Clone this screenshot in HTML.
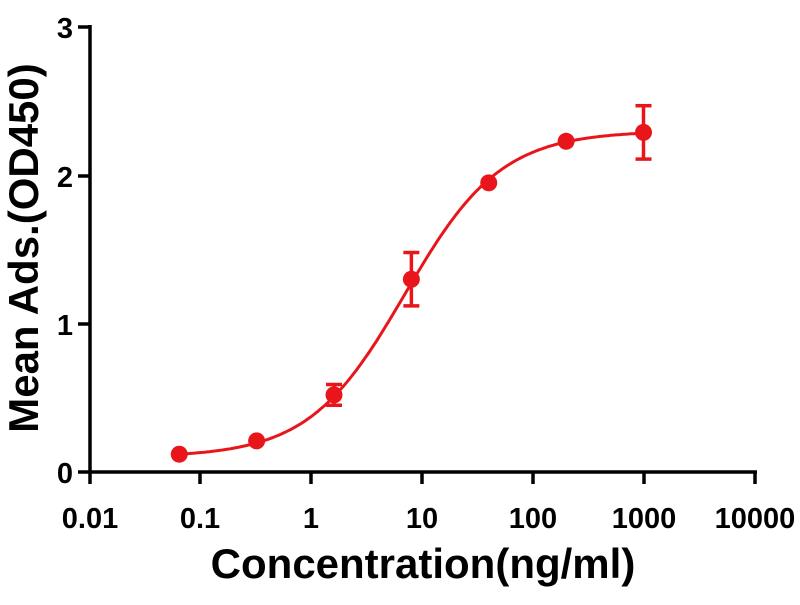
<!DOCTYPE html>
<html><head><meta charset="utf-8"><style>
body{margin:0;background:#fff;}
svg text{font-family:"Liberation Sans",Arial,sans-serif;font-weight:bold;fill:#000;}
</style></head><body>
<svg id="s" width="800" height="600" xmlns="http://www.w3.org/2000/svg">
<g stroke="#000" stroke-width="3.5" fill="none">
<line x1="90" y1="25" x2="90" y2="473"/>
<line x1="88" y1="472" x2="757" y2="472"/>
<line x1="78" y1="27" x2="90" y2="27"/>
<line x1="78" y1="176" x2="90" y2="176"/>
<line x1="78" y1="324" x2="90" y2="324"/>
<line x1="78" y1="472" x2="90" y2="472"/>
<line x1="90" y1="472" x2="90" y2="484"/>
<line x1="200" y1="472" x2="200" y2="484"/>
<line x1="311" y1="472" x2="311" y2="484"/>
<line x1="422" y1="472" x2="422" y2="484"/>
<line x1="533" y1="472" x2="533" y2="484"/>
<line x1="644" y1="472" x2="644" y2="484"/>
<line x1="755" y1="472" x2="755" y2="484"/>
</g>
<g font-size="29" text-anchor="end">
<text x="73" y="38">3</text><text x="73" y="187">2</text><text x="73" y="335">1</text><text x="73" y="483">0</text>
</g>
<g font-size="29" text-anchor="middle">
<text x="90" y="528">0.01</text><text x="200" y="528">0.1</text><text x="311" y="528">1</text><text x="422" y="528">10</text><text x="533" y="528">100</text><text x="644" y="528">1000</text><text x="755" y="528">10000</text>
</g>
<text x="423" y="578" font-size="42" text-anchor="middle">Concentration(ng/ml)</text>
<text transform="translate(38,248) rotate(-90)" font-size="42" text-anchor="middle">Mean Ads.(OD450)</text>
<g id="d"></g>
</svg>
<script>
var X=function(c){return 90+(Math.log10(c)+2)*110.7;},Y=function(v){return 472-v*148.3;};
var f=function(c){return 0.1+2.2/(1+Math.pow(7/c,1));};
var p="";for(var i=0;i<=200;i++){var lc=Math.log10(0.064)+i/200*(3-Math.log10(0.064));var c=Math.pow(10,lc);p+=(i?"L":"M")+X(c).toFixed(1)+","+Y(f(c)).toFixed(1);}
var h='<path d="'+p+'" stroke="#e8161b" stroke-width="3" fill="none"/>';
var pts=[[0.064,0.12,0],[0.32,0.21,0],[1.6,0.52,0.07],[8,1.30,0.18],[40,1.95,0],[200,2.23,0],[1000,2.29,0.18]];
pts.forEach(function(q){var x=X(q[0]),y=Y(q[1]);if(q[2]){var a=Y(q[1]+q[2]),b=Y(q[1]-q[2]);h+='<g stroke="#e8161b" stroke-width="3.5"><line x1="'+x+'" y1="'+a+'" x2="'+x+'" y2="'+b+'"/><line x1="'+(x-8)+'" y1="'+a+'" x2="'+(x+8)+'" y2="'+a+'"/><line x1="'+(x-8)+'" y1="'+b+'" x2="'+(x+8)+'" y2="'+b+'"/></g>';}h+='<circle cx="'+x+'" cy="'+y+'" r="8.5" fill="#e8161b"/>';});
document.getElementById("d").innerHTML=h;
</script>
</body></html>
